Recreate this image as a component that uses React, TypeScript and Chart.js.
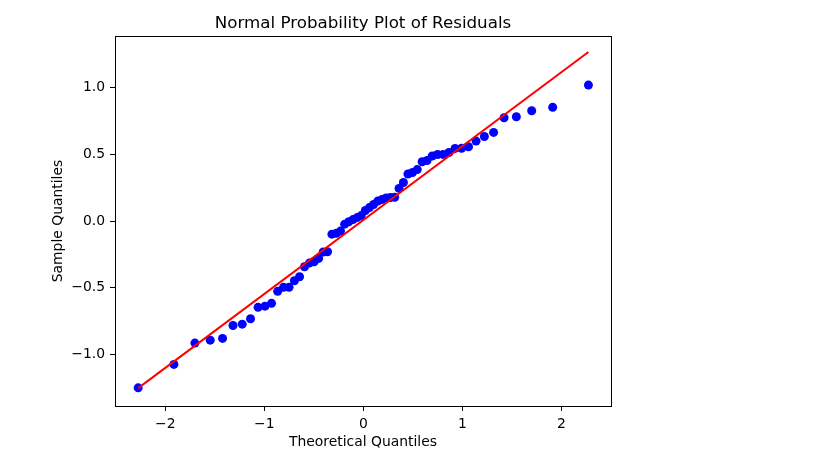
import React, { useEffect, useRef } from "react";
import { Chart, registerables } from "chart.js";

Chart.register(...registerables);

const TITLE = "Normal Probability Plot of Residuals";
const X_LABEL = "Theoretical Quantiles";
const Y_LABEL = "Sample Quantiles";

// Theoretical quantiles (n = 60)
const theoretical: number[] = [
  -2.274, -1.913, -1.701, -1.546, -1.422, -1.316, -1.223, -1.139, -1.063, -0.993,
  -0.927, -0.865, -0.806, -0.750, -0.696, -0.644, -0.594, -0.545, -0.497, -0.451,
  -0.405, -0.361, -0.317, -0.273, -0.230, -0.188, -0.146, -0.104, -0.062, -0.021,
  0.021, 0.062, 0.104, 0.146, 0.188, 0.230, 0.273, 0.317, 0.361, 0.405,
  0.451, 0.497, 0.545, 0.594, 0.644, 0.696, 0.750, 0.806, 0.865, 0.927,
  0.993, 1.063, 1.139, 1.223, 1.316, 1.422, 1.546, 1.701, 1.913, 2.274,
];

// Sample quantiles (sorted residuals)
const sample: number[] = [
  -1.251, -1.075, -0.915, -0.893, -0.880, -0.783, -0.773, -0.733, -0.647, -0.638,
  -0.617, -0.527, -0.497, -0.497, -0.448, -0.418, -0.343, -0.315, -0.305, -0.280,
  -0.232, -0.230, -0.098, -0.092, -0.075, -0.023, -0.005, 0.011, 0.026, 0.041,
  0.079, 0.101, 0.124, 0.150, 0.161, 0.173, 0.176, 0.178, 0.245, 0.289,
  0.353, 0.364, 0.386, 0.445, 0.454, 0.488, 0.499, 0.500, 0.514, 0.545,
  0.546, 0.557, 0.600, 0.634, 0.665, 0.775, 0.782, 0.827, 0.853, 1.020,
];

// Reference line endpoints
const lineX: number[] = [-2.274, 2.274];
const lineY: number[] = [-1.253, 1.268];

const xTicks: number[] = [-2, -1, 0, 1, 2];
const yTicks: number[] = [-1.0, -0.5, 0.0, 0.5, 1.0];

const FONT = "'DejaVu Sans', sans-serif";

const fmt = (v: number, d: number) =>
  (v < 0 ? "\u2212" : "") + Math.abs(v).toFixed(d);

const decorPlugin = {
  id: "decor",
  afterDraw(chart: any) {
    const { ctx, chartArea } = chart;
    const { left, right, top, bottom } = chartArea;
    ctx.save();
    ctx.strokeStyle = "#000";
    ctx.lineWidth = 1;
    ctx.strokeRect(Math.round(left) + 0.5, Math.round(top) + 0.5, Math.round(right - left), Math.round(bottom - top));
    ctx.fillStyle = "#000";
    const cx = (left + right) / 2;
    ctx.textAlign = "center";
    ctx.textBaseline = "alphabetic";
    ctx.font = `16.7px ${FONT}`;
    ctx.fillText(TITLE, cx, 28);
    ctx.font = `13.9px ${FONT}`;
    ctx.fillText(X_LABEL, cx, 446);
    ctx.translate(62, (top + bottom) / 2);
    ctx.rotate(-Math.PI / 2);
    ctx.fillText(Y_LABEL, 0, 0);
    ctx.restore();
  },
};

export default function App() {
  const ref = useRef<HTMLCanvasElement | null>(null);
  useEffect(() => {
    if (!ref.current) return;
    const chart = new Chart(ref.current, {
      type: "scatter",
      data: {
        datasets: [
          {
            label: "line",
            data: lineX.map((x, i) => ({ x, y: lineY[i] })),
            showLine: true,
            borderColor: "#ff0000",
            borderWidth: 2,
            pointRadius: 0,
            order: 0,
          },
          {
            label: "points",
            data: theoretical.map((x, i) => ({ x, y: sample[i] })),
            backgroundColor: "#0000ff",
            borderColor: "#0000ff",
            pointRadius: 4.5,
            borderWidth: 0,
            order: 1,
          },
        ],
      },
      options: {
        animation: false,
        responsive: false,
        devicePixelRatio: 1,
        layout: { padding: { left: 0, right: 224, top: 36, bottom: 0 } },
        plugins: {
          legend: { display: false },
          title: { display: false },
          tooltip: { enabled: false },
        },
        scales: {
          x: {
            type: "linear",
            min: -2.508,
            max: 2.502,
            afterBuildTicks: (s: any) => {
              s.ticks = xTicks.map((v) => ({ value: v }));
            },
            afterFit: (s: any) => {
              s.height = 49;
            },
            grid: {
              display: true,
              drawOnChartArea: false,
              drawTicks: true,
              tickLength: 5,
              tickColor: "#000",
              lineWidth: 1,
            },
            border: { display: false },
            ticks: {
              color: "#000",
              padding: 5,
              maxRotation: 0,
              font: { family: FONT, size: 13.9 },
              callback: (v: any) => fmt(Number(v), 0),
            },
          },
          y: {
            type: "linear",
            min: -1.387,
            max: 1.388,
            afterBuildTicks: (s: any) => {
              s.ticks = yTicks.map((v) => ({ value: v }));
            },
            afterFit: (s: any) => {
              s.width = 115;
            },
            grid: {
              display: true,
              drawOnChartArea: false,
              drawTicks: true,
              tickLength: 5,
              tickColor: "#000",
              lineWidth: 1,
            },
            border: { display: false },
            ticks: {
              color: "#000",
              padding: 5,
              font: { family: FONT, size: 13.9 },
              callback: (v: any) => fmt(Number(v), 1),
            },
          },
        },
      },
      plugins: [decorPlugin],
    });
    return () => chart.destroy();
  }, []);
  return (
    <div style={{ position: "absolute", left: 0, top: 0, width: 835, height: 455, background: "#fff" }}>
      <canvas ref={ref} width={835} height={455} style={{ width: 835, height: 455, display: "block" }} />
    </div>
  );
}
